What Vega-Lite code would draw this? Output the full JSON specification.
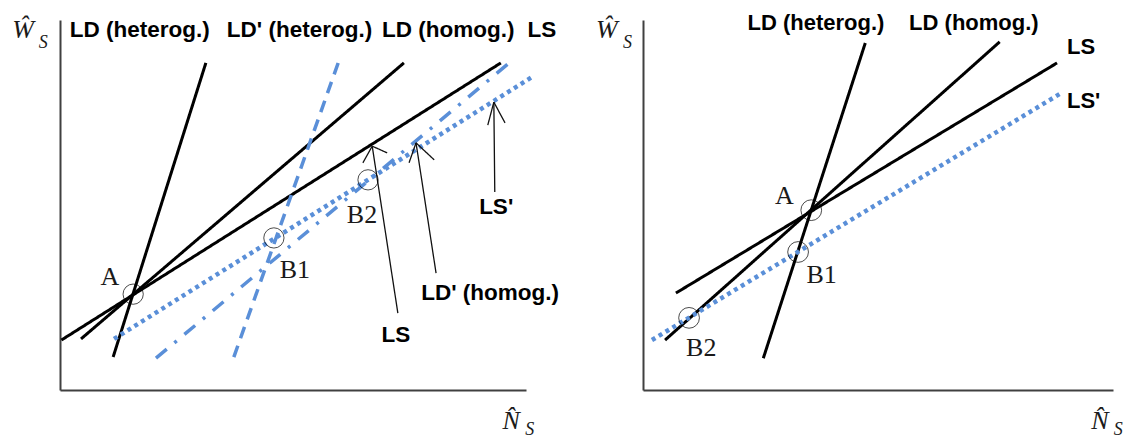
{
  "$schema": "https://vega.github.io/schema/vega-lite/v6.json",
  "background": "white",
  "padding": {"left": 12, "top": 11, "right": 0, "bottom": 0},
  "bounds": "flush",
  "spacing": 117,
  "config": {
    "view": {"stroke": null},
    "axis": {"ticks": false, "labels": false, "grid": false, "domainColor": "#404040", "domainWidth": 2}
  },
  "hconcat": [
    {
      "width": 466,
      "height": 370,
      "encoding": {
        "x": {"field": "n", "type": "quantitative", "scale": {"domain": [0, 100], "nice": false, "zero": false}, "axis": {"title": null, "orient": "bottom"}},
        "y": {"field": "w", "type": "quantitative", "scale": {"domain": [0, 100], "nice": false, "zero": false}, "axis": {"title": null, "orient": "left"}}
      },
      "layer": [
        {
          "data": {"values": [
            {"curve": "LD (heterog.)", "n": 11.4, "w": 8.9, "n2": 31.3, "w2": 88.4, "style": "solid"},
            {"curve": "LD (homog.)", "n": 4.5, "w": 13.8, "n2": 73.8, "w2": 88.4, "style": "solid"},
            {"curve": "LS", "n": 0.3, "w": 13.5, "n2": 94.6, "w2": 88.4, "style": "solid"},
            {"curve": "LD' (heterog.)", "n": 37.3, "w": 8.9, "n2": 59.7, "w2": 88.4, "style": "dashed"},
            {"curve": "LD' (homog.)", "n": 20.6, "w": 8.6, "n2": 96.4, "w2": 88.4, "style": "dashdot"},
            {"curve": "LS'", "n": 11.6, "w": 13.8, "n2": 101.3, "w2": 84.6, "style": "dotted"},
            {"curve": "arrow LS", "n": 72.5, "w": 20.8, "n2": 67.0, "w2": 65.9, "style": "arrow"},
            {"curve": "arrow LS", "n": 67.0, "w": 65.9, "n2": 65.0, "w2": 61.4, "style": "arrow"},
            {"curve": "arrow LS", "n": 67.0, "w": 65.9, "n2": 70.2, "w2": 64.1, "style": "arrow"},
            {"curve": "arrow LD' (homog.)", "n": 80.7, "w": 31.6, "n2": 76.4, "w2": 66.8, "style": "arrow"},
            {"curve": "arrow LD' (homog.)", "n": 76.4, "w": 66.8, "n2": 74.9, "w2": 61.4, "style": "arrow"},
            {"curve": "arrow LD' (homog.)", "n": 76.4, "w": 66.8, "n2": 80.3, "w2": 62.2, "style": "arrow"},
            {"curve": "arrow LS'", "n": 93.3, "w": 53.5, "n2": 93.1, "w2": 77.8, "style": "arrow"},
            {"curve": "arrow LS'", "n": 93.1, "w": 77.8, "n2": 91.8, "w2": 71.6, "style": "arrow"},
            {"curve": "arrow LS'", "n": 93.1, "w": 77.8, "n2": 95.5, "w2": 72.2, "style": "arrow"}
          ]},
          "mark": {"type": "rule", "strokeCap": "butt"},
          "encoding": {
            "x2": {"field": "n2"},
            "y2": {"field": "w2"},
            "color": {"field": "style", "type": "nominal", "scale": {"domain": ["solid", "dashed", "dashdot", "dotted", "arrow"], "range": ["#000000", "#5a8fd8", "#5a8fd8", "#5a8fd8", "#111111"]}, "legend": null},
            "strokeDash": {"field": "style", "type": "nominal", "scale": {"domain": ["solid", "dashed", "dashdot", "dotted", "arrow"], "range": [[1, 0], [12, 8], [14, 10, 3, 10], [4, 4], [1, 0]]}, "legend": null},
            "strokeWidth": {"field": "style", "type": "nominal", "scale": {"type": "ordinal", "domain": ["solid", "dashed", "dashdot", "dotted", "arrow"], "range": [3, 3.5, 3.5, 4.5, 1.3]}, "legend": null}
          }
        },
        {
          "data": {"values": [
            {"point": "A", "n": 15.7, "w": 25.9},
            {"point": "B1", "n": 45.9, "w": 41.1},
            {"point": "B2", "n": 66.1, "w": 56.8}
          ]},
          "mark": {"type": "point", "shape": "circle", "filled": false, "color": "#000000", "strokeWidth": 1, "size": 410}
        },
        {
          "data": {"values": [
            {"label": "A", "n": 10.7, "w": 30.5},
            {"label": "B1", "n": 50.4, "w": 32.4},
            {"label": "B2", "n": 64.8, "w": 47.3}
          ]},
          "mark": {"type": "text", "font": "Liberation Serif", "fontSize": 26, "align": "center", "baseline": "middle", "color": "#1a1a1a"},
          "encoding": {"text": {"field": "label"}}
        },
        {
          "data": {"values": [
            {"label": "LD (heterog.)", "n": 17.1, "w": 97.3},
            {"label": "LD' (heterog.)", "n": 51.4, "w": 97.3},
            {"label": "LD (homog.)", "n": 83.3, "w": 97.3},
            {"label": "LS", "n": 103.4, "w": 97.3},
            {"label": "LS", "n": 72.1, "w": 14.9},
            {"label": "LD' (homog.)", "n": 92.3, "w": 26.1},
            {"label": "LS'", "n": 93.6, "w": 49.5}
          ]},
          "mark": {"type": "text", "font": "Liberation Sans", "fontWeight": "bold", "fontSize": 22.5, "align": "center", "baseline": "middle", "color": "#000000"},
          "encoding": {"text": {"field": "label"}}
        },
        {
          "data": {"values": [
            {"label": "Ŵ", "n": -7.9, "w": 95.1},
            {"label": "N̂", "n": 96.8, "w": -10.5}
          ]},
          "mark": {"type": "text", "font": "Liberation Serif", "fontStyle": "italic", "fontSize": 26, "align": "center", "baseline": "alphabetic", "color": "#1a1a1a"},
          "encoding": {"text": {"field": "label"}}
        },
        {
          "data": {"values": [
            {"label": "S", "n": -3.6, "w": 92.4},
            {"label": "S", "n": 100.8, "w": -12.2}
          ]},
          "mark": {"type": "text", "font": "Liberation Serif", "fontStyle": "italic", "fontSize": 18, "align": "center", "baseline": "alphabetic", "color": "#1a1a1a"},
          "encoding": {"text": {"field": "label"}}
        }
      ]
    },
    {
      "width": 470,
      "height": 370,
      "encoding": {
        "x": {"field": "n", "type": "quantitative", "scale": {"domain": [0, 100], "nice": false, "zero": false}, "axis": {"title": null, "orient": "bottom"}},
        "y": {"field": "w", "type": "quantitative", "scale": {"domain": [0, 100], "nice": false, "zero": false}, "axis": {"title": null, "orient": "left"}}
      },
      "layer": [
        {
          "data": {"values": [
            {"curve": "LD (heterog.)", "n": 25.6, "w": 8.6, "n2": 47.3, "w2": 93.8, "style": "solid"},
            {"curve": "LD (homog.)", "n": 4.7, "w": 13.5, "n2": 75.9, "w2": 94.1, "style": "solid"},
            {"curve": "LS", "n": 7.0, "w": 26.2, "n2": 88.1, "w2": 88.4, "style": "solid"},
            {"curve": "LS'", "n": 1.9, "w": 13.5, "n2": 89.3, "w2": 80.5, "style": "dotted"}
          ]},
          "mark": {"type": "rule", "strokeCap": "butt"},
          "encoding": {
            "x2": {"field": "n2"},
            "y2": {"field": "w2"},
            "color": {"field": "style", "type": "nominal", "scale": {"domain": ["solid", "dotted"], "range": ["#000000", "#5a8fd8"]}, "legend": null},
            "strokeDash": {"field": "style", "type": "nominal", "scale": {"domain": ["solid", "dotted"], "range": [[1, 0], [4, 4]]}, "legend": null},
            "strokeWidth": {"field": "style", "type": "nominal", "scale": {"type": "ordinal", "domain": ["solid", "dotted"], "range": [3, 4.5]}, "legend": null}
          }
        },
        {
          "data": {"values": [
            {"point": "A", "n": 35.8, "w": 48.6},
            {"point": "B1", "n": 33.0, "w": 37.3},
            {"point": "B2", "n": 9.8, "w": 19.5}
          ]},
          "mark": {"type": "point", "shape": "circle", "filled": false, "color": "#000000", "strokeWidth": 1, "size": 430}
        },
        {
          "data": {"values": [
            {"label": "A", "n": 30.1, "w": 52.4},
            {"label": "B1", "n": 38.0, "w": 31.1},
            {"label": "B2", "n": 12.4, "w": 11.4}
          ]},
          "mark": {"type": "text", "font": "Liberation Serif", "fontSize": 26, "align": "center", "baseline": "middle", "color": "#1a1a1a"},
          "encoding": {"text": {"field": "label"}}
        },
        {
          "data": {"values": [
            {"label": "LD (heterog.)", "n": 36.8, "w": 99.2},
            {"label": "LD (homog.)", "n": 70.4, "w": 99.2}
          ]},
          "mark": {"type": "text", "font": "Liberation Sans", "fontWeight": "bold", "fontSize": 22, "align": "center", "baseline": "middle", "color": "#000000"},
          "encoding": {"text": {"field": "label"}}
        },
        {
          "data": {"values": [
            {"label": "LS", "n": 90.2, "w": 92.7},
            {"label": "LS'", "n": 90.2, "w": 78.1}
          ]},
          "mark": {"type": "text", "font": "Liberation Sans", "fontWeight": "bold", "fontSize": 22, "align": "left", "baseline": "middle", "color": "#000000"},
          "encoding": {"text": {"field": "label"}}
        },
        {
          "data": {"values": [
            {"label": "Ŵ", "n": -7.7, "w": 95.1},
            {"label": "N̂", "n": 97.2, "w": -10.5}
          ]},
          "mark": {"type": "text", "font": "Liberation Serif", "fontStyle": "italic", "fontSize": 26, "align": "center", "baseline": "alphabetic", "color": "#1a1a1a"},
          "encoding": {"text": {"field": "label"}}
        },
        {
          "data": {"values": [
            {"label": "S", "n": -3.3, "w": 92.4},
            {"label": "S", "n": 101.1, "w": -12.2}
          ]},
          "mark": {"type": "text", "font": "Liberation Serif", "fontStyle": "italic", "fontSize": 18, "align": "center", "baseline": "alphabetic", "color": "#1a1a1a"},
          "encoding": {"text": {"field": "label"}}
        }
      ]
    }
  ]
}
